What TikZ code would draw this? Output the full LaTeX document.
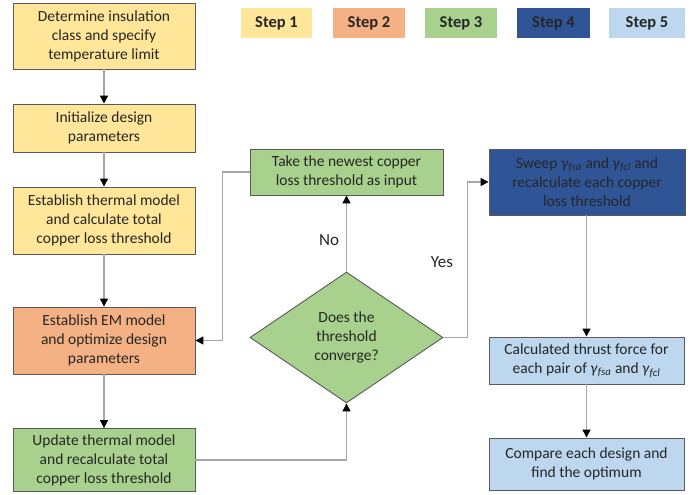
\documentclass[tikz,border=0pt]{standalone}
\usepackage{fontspec}
\setmainfont{Carlito}
\usetikzlibrary{shapes.geometric,arrows.meta}
\definecolor{cyel}{HTML}{FFE699}
\definecolor{cora}{HTML}{F4B183}
\definecolor{cgre}{HTML}{A9D18E}
\definecolor{cdbl}{HTML}{2F5597}
\definecolor{clbl}{HTML}{BDD7EE}
\definecolor{ctxt}{HTML}{262626}
\definecolor{cline}{HTML}{A6A6A6}
\definecolor{cbord}{HTML}{595959}
\newcommand{\gfsa}{\textit{γ}\textsubscript{\textit{fsa}}}
\newcommand{\gfcl}{\textit{γ}\textsubscript{\textit{fcl}}}
\begin{document}
\begin{tikzpicture}[x=1pt,y=-1pt,
  box/.style={draw=cbord,line width=0.9pt,rectangle,inner sep=2pt,align=center,text=ctxt,
    font=\fontsize{15.5}{19}\selectfont},
  legbox/.style={rectangle,inner sep=0pt,minimum height=30pt,text=ctxt,font=\fontsize{16.5}{18}\selectfont\bfseries},
  conn/.style={draw=cline,line width=1.3pt},
  arr/.style={conn,-{Triangle[color=black,length=8pt,width=8pt]}},
  lbl/.style={text=ctxt,font=\fontsize{17}{19}\selectfont}]
\useasboundingbox (0,0) rectangle (699,495);
% legend
\node[legbox,fill=cyel,minimum width=71pt] (l1) at (276.5,23) {Step 1};
\node[legbox,fill=cora,minimum width=72pt] (l2) at (369,23) {Step 2};
\node[legbox,fill=cgre,minimum width=72pt] (l3) at (461,23) {Step 3};
\node[legbox,fill=cdbl,minimum width=73pt] (l4) at (553.5,23) {Step 4};
\node[legbox,fill=clbl,minimum width=76pt] (l5) at (647,23) {Step 5};
% left column
\node[box,fill=cyel,minimum width=182pt,minimum height=66pt] (A) at (104,36) {Determine insulation\\class and specify\\temperature limit};
\node[box,fill=cyel,minimum width=182pt,minimum height=48pt] (B) at (104,128) {Initialize design\\parameters};
\node[box,fill=cyel,minimum width=182pt,minimum height=67pt] (C) at (104,220.5) {Establish thermal model\\and calculate total\\copper loss threshold};
\node[box,fill=cora,minimum width=182pt,minimum height=67pt] (D) at (104,340.5) {Establish EM model\\and optimize design\\parameters};
\node[box,fill=cgre,minimum width=182pt,minimum height=63pt] (E) at (104,460) {Update thermal model\\and recalculate total\\copper loss threshold};
% middle
\node[box,fill=cgre,minimum width=193pt,minimum height=46pt] (T) at (346.5,172) {Take the newest copper\\loss threshold as input};
\node[box,diamond,fill=cgre,minimum width=193pt,minimum height=131pt,inner sep=0pt] (Q) at (346.5,337.5) {Does the\\threshold\\converge?};
% right
\node[box,fill=cdbl,minimum width=196pt,minimum height=66pt] (S) at (587,182) {Sweep \gfsa{} and \gfcl{} and\\recalculate each copper\\loss threshold};
\node[box,fill=clbl,minimum width=195pt,minimum height=47pt] (K) at (586.5,360.5) {Calculated thrust force for\\each pair of \gfsa{} and \gfcl};
\node[box,fill=clbl,minimum width=195pt,minimum height=52pt] (M) at (586.5,464) {Compare each design and\\find the optimum};
% labels
\node[lbl] (no) at (329,240) {No};
\node[lbl] (yes) at (442,262) {Yes};
% connectors
\draw[arr] (A) -- (B);
\draw[arr] (B) -- (C);
\draw[arr] (C) -- (D);
\draw[arr] (D) -- (E);
\draw[arr] (E.east) -| (Q.south);
\draw[arr] (Q.north) -- (T.south);
\draw[arr] (T.west) -- ++(-27,0) |- (D.east);
\draw[arr] (Q.east) -- ++(24,0) |- (S.west);
\draw[arr] (S.south -| K.north) -- (K.north);
\draw[arr] (K) -- (M);
\end{tikzpicture}
\end{document}
